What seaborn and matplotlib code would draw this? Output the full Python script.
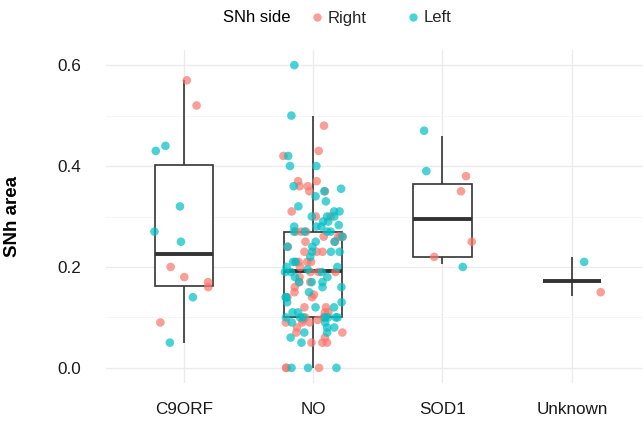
import numpy as np
import pandas as pd
import matplotlib
matplotlib.use("Agg")
import matplotlib.pyplot as plt
from matplotlib.lines import Line2D
import seaborn as sns

# ------------------------------------------------------------------
# Data (SNh area per side, per genetic group)
# ------------------------------------------------------------------
groups = ["C9ORF", "NO", "SOD1", "Unknown"]
sides = ["Right", "Left"]
side_colors = {"Right": "#F8766D", "Left": "#00BFC4"}

c9_right = [0.57, 0.52, 0.20, 0.18, 0.17, 0.16, 0.09]
c9_left = [0.44, 0.43, 0.32, 0.27, 0.25, 0.14, 0.05]

no_right = [0.48, 0.43, 0.42, 0.37, 0.37, 0.36, 0.36, 0.35, 0.35, 0.31,
            0.30, 0.30, 0.27, 0.27, 0.27, 0.26, 0.26, 0.26, 0.26, 0.25,
            0.25, 0.24, 0.23, 0.23, 0.23, 0.21, 0.21, 0.21, 0.21, 0.20,
            0.19, 0.19, 0.19, 0.18, 0.17, 0.17, 0.16, 0.15, 0.145, 0.14,
            0.14, 0.12, 0.12, 0.11, 0.11, 0.10, 0.10, 0.10, 0.095, 0.095,
            0.09, 0.09, 0.09, 0.08, 0.07, 0.07, 0.06, 0.05, 0.05, 0.05,
            0.00, 0.00, 0.00]
no_left = [0.60, 0.50, 0.42, 0.40, 0.40, 0.36, 0.355, 0.35, 0.34, 0.33,
           0.32, 0.31, 0.31, 0.30, 0.30, 0.30, 0.29, 0.29, 0.283, 0.28,
           0.27, 0.28, 0.28, 0.27, 0.27, 0.27, 0.26, 0.25, 0.25, 0.24,
           0.24, 0.23, 0.23, 0.23, 0.22, 0.21, 0.21, 0.20, 0.20, 0.19,
           0.19, 0.195, 0.19, 0.18, 0.18, 0.17, 0.17, 0.17, 0.16, 0.16,
           0.15, 0.14, 0.14, 0.13, 0.13, 0.12, 0.12, 0.11, 0.11, 0.10,
           0.10, 0.10, 0.10, 0.10, 0.10, 0.10, 0.09, 0.09, 0.08, 0.08,
           0.07, 0.07, 0.06, 0.05, 0.00, 0.00, 0.00]

sod1_right = [0.38, 0.35, 0.25, 0.22]
sod1_left = [0.47, 0.39, 0.20]

unk_right = [0.15]
unk_left = [0.21]

# box summaries (patient-level values) where they differ from the side points
sod1_box = [0.205, 0.22, 0.295, 0.365, 0.46]
unk_box = [0.143, 0.172, 0.172, 0.172, 0.22]

# ------------------------------------------------------------------
# Long tables
# ------------------------------------------------------------------
rows = []
for g, r, l in [("C9ORF", c9_right, c9_left), ("NO", no_right, no_left),
                ("SOD1", sod1_right, sod1_left), ("Unknown", unk_right, unk_left)]:
    rows += [(g, "Right", v) for v in r]
    rows += [(g, "Left", v) for v in l]
pts = pd.DataFrame(rows, columns=["group", "side", "area"])

box_rows = [(g, v) for g, vals in [("C9ORF", c9_right + c9_left),
                                   ("NO", no_right + no_left),
                                   ("SOD1", sod1_box),
                                   ("Unknown", unk_box)] for v in vals]
box = pd.DataFrame(box_rows, columns=["group", "area"])

# ------------------------------------------------------------------
# Plot
# ------------------------------------------------------------------
sns.set_theme(style="white")
plt.rcParams["font.family"] = ["Liberation Sans", "DejaVu Sans"]

fig = plt.figure(figsize=(6.43, 4.22), dpi=100)
ax = fig.add_axes([106 / 643, 1 - 383 / 422, 537 / 643, 333 / 422])

box_kw = dict(x="group", y="area", order=groups, ax=ax, color="white",
              linecolor="#333333", linewidth=1.2, width=0.45,
              showfliers=False, showcaps=False,
              medianprops=dict(linewidth=2.8, color="#333333"))
# 1.5 IQR whiskers; the flat Unknown box keeps its full whisker range
sns.boxplot(data=box[box["group"] != "Unknown"], whis=1.5, **box_kw)
sns.boxplot(data=box[box["group"] == "Unknown"], whis=(0, 100), **box_kw)

np.random.seed(3)
sns.stripplot(data=pts, x="group", y="area", hue="side", order=groups,
              hue_order=sides, palette=side_colors, jitter=0.24, size=6.2,
              alpha=0.7, linewidth=0, ax=ax, legend=False, zorder=3)

ax.set_xlim(-0.6, 3.55)
ax.set_ylim(-0.03, 0.63)
ax.set_yticks([0.0, 0.2, 0.4, 0.6])
ax.set_yticks([0.1, 0.3, 0.5], minor=True)
ax.set_yticklabels(["0.0", "0.2", "0.4", "0.6"])
ax.grid(True, which="major", color="#EBEBEB", linewidth=1.0)
ax.grid(True, which="minor", axis="y", color="#F4F4F4", linewidth=0.6)
ax.set_axisbelow(True)
for s in ax.spines.values():
    s.set_visible(False)
ax.tick_params(axis="both", which="both", length=0, labelsize=12.3,
               labelcolor="#1A1A1A")
ax.tick_params(axis="x", pad=14)
ax.tick_params(axis="y", pad=18)

ax.set_xlabel("")
ax.set_ylabel("SNh area", fontsize=13.5, fontweight="bold", color="black")
ax.yaxis.set_label_coords(-0.158, 0.5)

# legend on top, horizontal, title on the left
fig.text(223 / 643, 1 - 18 / 422, "SNh side", fontsize=12, va="center",
         ha="left", color="black")
handles = [Line2D([], [], marker="o", linestyle="", markersize=6,
                  markerfacecolor=side_colors[s], markeredgewidth=0,
                  alpha=0.7, label=s) for s in sides]
fig.legend(handles=handles, loc="center left", ncol=2, frameon=False,
           bbox_to_anchor=(311 / 643, 1 - 18 / 422), fontsize=12,
           handlelength=0.7, handletextpad=0.3, columnspacing=2.42,
           borderpad=0, borderaxespad=0)

fig.savefig("out.png", dpi=100)
